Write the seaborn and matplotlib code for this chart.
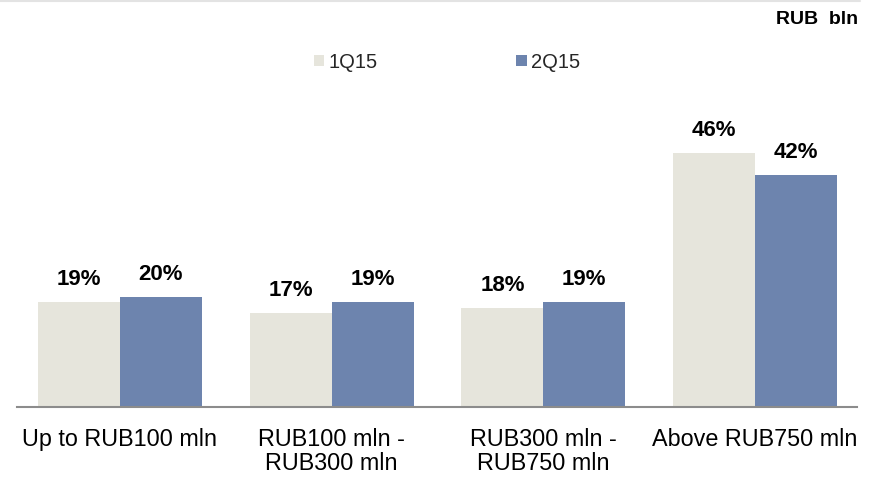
import matplotlib
matplotlib.use("Agg")
import matplotlib.pyplot as plt
import seaborn as sns
import pandas as pd
from matplotlib.lines import Line2D
from matplotlib.patches import Patch

categories = ["Up to RUB100 mln", "RUB100 mln -\nRUB300 mln", "RUB300 mln -\nRUB750 mln", "Above RUB750 mln"]
series_names = ["1Q15", "2Q15"]
q1_values = [19, 17, 18, 46]
q2_values = [20, 19, 19, 42]
colors = ["#E6E5DC", "#6D84AE"]

df = pd.DataFrame({
    "category": categories * 2,
    "series": [series_names[0]] * 4 + [series_names[1]] * 4,
    "value": q1_values + q2_values,
})

sns.set_theme(style="white")
plt.rcParams["font.family"] = ["Liberation Sans", "DejaVu Sans"]

fig = plt.figure(figsize=(8.75, 4.78), dpi=100)
ax = fig.add_axes([14 / 875, 71 / 478, 847 / 875, 327 / 478])

sns.barplot(data=df, x="category", y="value", hue="series", palette=colors,
            width=0.774, gap=0, dodge=True, ax=ax, legend=False, saturation=1,
            edgecolor="none", linewidth=0)

ax.set_ylim(0, 59.2)
ax.set_xlim(-0.5, 3.5)
for c in ax.containers:
    ax.bar_label(c, fmt="{:.0f}%", padding=8.5, fontsize=16, fontweight="bold", color="black")

ax.set_xlabel("")
ax.set_ylabel("")
ax.set_yticks([])
ax.tick_params(axis="x", length=0, pad=15, labelsize=16.8, colors="black")
for lbl in ax.get_xticklabels():
    lbl.set_linespacing(1.05)
for s in ["top", "right", "left"]:
    ax.spines[s].set_visible(False)
ax.spines["bottom"].set_color("#8C8C8C")
ax.spines["bottom"].set_linewidth(1.5)
ax.spines["bottom"].set_bounds(-0.486, 3.48)

handles = [Patch(facecolor=colors[0], edgecolor="none"), Patch(facecolor=colors[1], edgecolor="none")]
fig.legend(handles, series_names, loc="center", bbox_to_anchor=(447 / 875, 1 - 62 / 478), ncol=2,
           frameon=False, fontsize=14.5, handlelength=0.53, handleheight=0.5, handletextpad=0.2,
           columnspacing=6.9)

fig.text(858 / 875, 1 - 19 / 478, "RUB  bln", ha="right", va="center", fontsize=14, fontweight="bold", color="black")
fig.add_artist(Line2D([0, 0.983], [0.997, 0.997], transform=fig.transFigure, color="#E3E3E3", linewidth=1.5))

fig.savefig("out.png", dpi=100)
